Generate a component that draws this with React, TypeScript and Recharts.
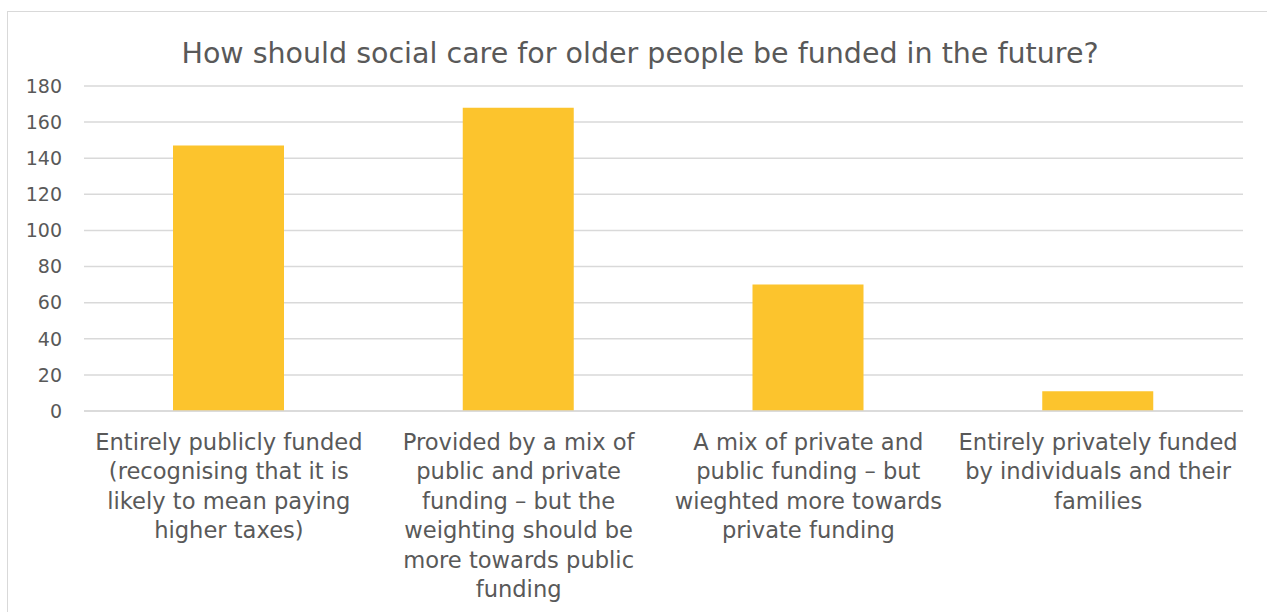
import React from "react";
import { BarChart, Bar, XAxis, YAxis, CartesianGrid } from "recharts";

const title = "How should social care for older people be funded in the future?";
const categories = [
  "Entirely publicly funded\n(recognising that it is\nlikely to mean paying\nhigher taxes)",
  "Provided by a mix of\npublic and private\nfunding \u2013 but the\nweighting should be\nmore towards public\nfunding",
  "A mix of private and\npublic funding \u2013 but\nwieghted more towards\nprivate funding",
  "Entirely privately funded\nby individuals and their\nfamilies",
];
const values = [147, 168, 70, 11];
const yTicks = [0, 20, 40, 60, 80, 100, 120, 140, 160, 180];

const data = categories.map((c, i) => ({ name: c, value: values[i] }));

const FONT = "'DejaVu Sans', sans-serif";
const TEXT = "#595959";

const CatTick = (props: any) => {
  const { x, y, payload } = props;
  const lines = String(payload.value).split("\n");
  return (
    <text
      x={x}
      y={y + 39}
      textAnchor="middle"
      fill={TEXT}
      fontFamily={FONT}
      fontSize={22.6}
    >
      {lines.map((l, i) => (
        <tspan key={i} x={x} dy={i === 0 ? 0 : 29.4}>
          {l}
        </tspan>
      ))}
    </text>
  );
};

export default function App() {
  return (
    <div
      style={{
        position: "fixed",
        left: 0,
        top: 0,
        width: 1267,
        height: 612,
        overflow: "hidden",
        background: "#fff",
      }}
    >
      <div
        style={{
          position: "absolute",
          left: 7,
          top: 11,
          width: 1264,
          height: 700,
          border: "1px solid #d9d9d9",
        }}
      />
      <div style={{ position: "absolute", left: 8, top: 12 }}>
        <BarChart
          width={1264}
          height={600}
          data={data}
          margin={{ top: 74, right: 29, bottom: 1, left: 0 }}
        >
          <CartesianGrid vertical={false} stroke="#d9d9d9" strokeWidth={1.5} />
          <XAxis
            dataKey="name"
            interval={0}
            height={200}
            tickLine={false}
            tickSize={0}
            tickMargin={0}
            axisLine={{ stroke: "#d9d9d9", strokeWidth: 1.5 }}
            tick={<CatTick />}
          />
          <YAxis
            width={76}
            domain={[0, 180]}
            ticks={yTicks}
            interval={0}
            axisLine={false}
            tickLine={false}
            tickSize={0}
            tickMargin={22}
            tick={{ fill: TEXT, fontFamily: FONT, fontSize: 19 }}
          />
          <Bar dataKey="value" fill="#FCC42D" barSize={111} isAnimationActive={false} />
        </BarChart>
      </div>
      <svg
        style={{ position: "absolute", left: 0, top: 0 }}
        width={1267}
        height={100}
      >
        <text
          x={640}
          y={63}
          textAnchor="middle"
          fill={TEXT}
          fontFamily={FONT}
          fontSize={28.5}
        >
          {title}
        </text>
      </svg>
    </div>
  );
}
